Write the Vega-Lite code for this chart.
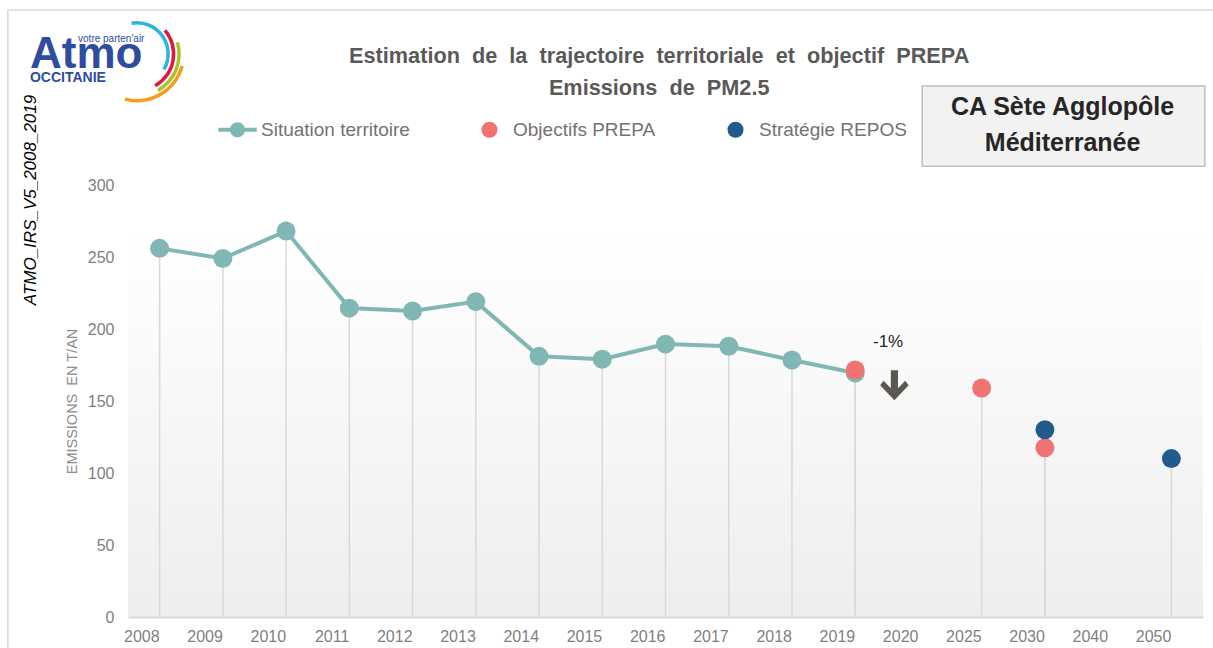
{
  "$schema": "https://vega.github.io/schema/vega-lite/v6.json",
  "width": 1075,
  "height": 432,
  "autosize": {"type": "none"},
  "padding": {"left": 128, "top": 185, "right": 10, "bottom": 31},
  "background": "#ffffff",
  "datasets": {
    "main": [
      {"year": "2008", "series": "Situation territoire", "value": 256},
      {"year": "2009", "series": "Situation territoire", "value": 249},
      {"year": "2010", "series": "Situation territoire", "value": 268},
      {"year": "2011", "series": "Situation territoire", "value": 214.5},
      {"year": "2012", "series": "Situation territoire", "value": 212.5},
      {"year": "2013", "series": "Situation territoire", "value": 219},
      {"year": "2014", "series": "Situation territoire", "value": 181},
      {"year": "2015", "series": "Situation territoire", "value": 179},
      {"year": "2016", "series": "Situation territoire", "value": 189.5},
      {"year": "2017", "series": "Situation territoire", "value": 188},
      {"year": "2018", "series": "Situation territoire", "value": 178.5},
      {"year": "2019", "series": "Situation territoire", "value": 169.5},
      {"year": "2019", "series": "Objectifs PREPA", "value": 171.5},
      {"year": "2025", "series": "Objectifs PREPA", "value": 159},
      {"year": "2030", "series": "Objectifs PREPA", "value": 117.5},
      {"year": "2030", "series": "Stratégie REPOS", "value": 130},
      {"year": "2050", "series": "Stratégie REPOS", "value": 110}
    ]
  },
  "config": {
    "view": {"stroke": null},
    "axis": {"grid": false, "ticks": false, "labelFont": "Liberation Sans, Arial, sans-serif", "labelFontSize": 16, "labelColor": "#7f7f7f"},
    "text": {"lineBreak": "\n"},
    "legend": {
      "title": null, "orient": "none", "direction": "horizontal", "legendX": 100, "legendY": -65,
      "labelFont": "Liberation Sans, Arial, sans-serif", "labelFontSize": 19, "labelColor": "#767171",
      "symbolSize": 256, "symbolStrokeWidth": 0, "symbolOpacity": 1, "columnPadding": 70, "labelOffset": 14
    }
  },
  "layer": [
    {
      "data": {"values": [{"lo": 0, "hi": 265}]},
      "mark": {"type": "rect", "fill": {"gradient": "linear", "x1": 0, "y1": 0, "x2": 0, "y2": 1, "stops": [{"offset": 0, "color": "#ffffff"}, {"offset": 1, "color": "#eeeeee"}]}},
      "encoding": {
        "y": {"field": "lo", "type": "quantitative", "scale": {"domain": [0, 300], "nice": false},
          "axis": {"title": "EMISSIONS\u00a0\u00a0EN T/AN", "values": [0, 50, 100, 150, 200, 250, 300], "domain": false, "labelPadding": 14, "titleFont": "Liberation Sans, Arial, sans-serif", "titleFontSize": 14.5, "titleFontWeight": "normal", "titleColor": "#8c8c8c", "titlePadding": 8}},
        "y2": {"field": "hi"}
      }
    },
    {
      "data": {"values": [{"a": 1}]},
      "mark": {"type": "rect", "fill": null, "stroke": "#d9d9d9", "strokeWidth": 1.5, "clip": false},
      "encoding": {
        "x": {"datum": "2008", "type": "ordinal", "bandPosition": -1.9},
        "x2": {"datum": "2050", "bandPosition": 4},
        "y": {"datum": 421.5, "type": "quantitative"},
        "y2": {"datum": -40}
      }
    },
    {
      "data": {"name": "main"},
      "mark": {"type": "rule", "color": "#d9d9d9", "strokeWidth": 1.5},
      "encoding": {
        "x": {"field": "year", "type": "ordinal", "scale": {"type": "band", "paddingInner": 0, "paddingOuter": 0, "domain": ["2008", "2009", "2010", "2011", "2012", "2013", "2014", "2015", "2016", "2017", "2018", "2019", "2020", "2025", "2030", "2040", "2050"]},
          "axis": {"title": null, "labelAngle": 0, "domain": true, "domainColor": "#d9d9d9", "domainWidth": 2, "labelPadding": 19}},
        "y": {"field": "value", "type": "quantitative"},
        "y2": {"datum": 0}
      }
    },
    {
      "data": {"name": "main"},
      "transform": [{"filter": "datum.series === 'Situation territoire'"}],
      "mark": {"type": "line", "color": "#80b7b5", "strokeWidth": 4},
      "encoding": {
        "x": {"field": "year", "type": "ordinal"},
        "y": {"field": "value", "type": "quantitative"}
      }
    },
    {
      "data": {"name": "main"},
      "mark": {"type": "point", "filled": true, "opacity": 1, "size": 360},
      "encoding": {
        "x": {"field": "year", "type": "ordinal"},
        "y": {"field": "value", "type": "quantitative"},
        "color": {"field": "series", "type": "nominal",
          "scale": {"domain": ["Situation territoire", "Objectifs PREPA", "Stratégie REPOS"], "range": ["#80b7b5", "#f07373", "#215a8c"]}}
      }
    },
    {
      "data": {"name": "main"},
      "mark": {"type": "point", "filled": true, "opacity": 0, "size": 256},
      "encoding": {
        "x": {"field": "year", "type": "ordinal"},
        "y": {"field": "value", "type": "quantitative"},
        "color": {"field": "series", "type": "nominal"},
        "shape": {"field": "series", "type": "nominal",
          "scale": {"domain": ["Situation territoire", "Objectifs PREPA", "Stratégie REPOS"],
            "range": ["M-2.4,-0.25L2.4,-0.25L2.4,0.25L-2.4,0.25Z M-0.95,0A0.95,0.95 0 1,1 0.95,0A0.95,0.95 0 1,1 -0.95,0Z", "circle", "circle"]}}
      }
    },
    {
      "data": {"values": [{"year": "2020", "value": 191, "label": "-1%"}]},
      "mark": {"type": "text", "fontSize": 17, "color": "#262626", "font": "Liberation Sans, Arial, sans-serif", "baseline": "middle", "align": "center"},
      "encoding": {
        "x": {"field": "year", "type": "ordinal", "bandPosition": 0.02},
        "y": {"field": "value", "type": "quantitative"},
        "text": {"field": "label"}
      }
    },
    {
      "data": {"values": [{"year": "2020", "value": 161}]},
      "mark": {"type": "point", "filled": true, "opacity": 1, "color": "#5b5751", "size": 900,
        "shape": "M-0.24,-1L0.24,-1L0.24,0.2L0.72,-0.3L0.95,0L0,1L-0.95,0L-0.72,-0.3L-0.24,0.2Z"},
      "encoding": {
        "x": {"field": "year", "type": "ordinal", "bandPosition": 0.12},
        "y": {"field": "value", "type": "quantitative"}
      }
    },
    {
      "data": {"values": [{"a": 1}]},
      "mark": {"type": "rect", "fill": "#f2f2f2", "stroke": "#bfbfbf", "strokeWidth": 1.5, "clip": false},
      "encoding": {
        "x": {"datum": "2020", "type": "ordinal", "bandPosition": 0.56},
        "x2": {"datum": "2050", "bandPosition": 1.03},
        "y": {"datum": 368.75, "type": "quantitative"},
        "y2": {"datum": 313}
      }
    },
    {
      "data": {"values": [{"label": "CA Sète Agglopôle\nMéditerranée"}]},
      "mark": {"type": "text", "font": "Liberation Sans, Arial, sans-serif", "fontWeight": "bold", "fontSize": 25, "color": "#262626", "lineHeight": 36, "align": "center", "baseline": "middle"},
      "encoding": {
        "x": {"datum": "2030", "type": "ordinal", "bandPosition": 0.78},
        "y": {"datum": 354.5, "type": "quantitative"},
        "text": {"field": "label"}
      }
    },
    {
      "data": {"values": [{"label": "Estimation\u00a0 de\u00a0 la\u00a0 trajectoire\u00a0 territoriale\u00a0 et\u00a0 objectif\u00a0 PREPA\nEmissions\u00a0 de\u00a0 PM2.5"}]},
      "mark": {"type": "text", "font": "Liberation Sans, Arial, sans-serif", "fontWeight": "bold", "fontSize": 21.7, "color": "#595959", "lineHeight": 32, "align": "center", "baseline": "middle"},
      "encoding": {
        "x": {"datum": "2016", "type": "ordinal", "bandPosition": 0.4},
        "y": {"datum": 389.3, "type": "quantitative"},
        "text": {"field": "label"}
      }
    },
    {
      "data": {"values": [{"label": "ATMO_IRS_V5_2008_2019"}]},
      "mark": {"type": "text", "font": "Liberation Sans, Arial, sans-serif", "fontStyle": "italic", "fontSize": 17, "color": "#000000", "angle": 270, "align": "center", "baseline": "middle"},
      "encoding": {
        "x": {"datum": "2008", "type": "ordinal", "bandPosition": -1.53},
        "y": {"datum": 289.6, "type": "quantitative"},
        "text": {"field": "label"}
      }
    },
    {
      "data": {"values": [{"label": "Atmo"}]},
      "mark": {"type": "text", "font": "Liberation Sans, Arial, sans-serif", "fontWeight": "bold", "fontSize": 44, "color": "#2e4d9f", "align": "center", "baseline": "alphabetic"},
      "encoding": {
        "x": {"datum": "2008", "type": "ordinal", "bandPosition": -0.66},
        "y": {"datum": 381.2, "type": "quantitative"},
        "text": {"field": "label"}
      }
    },
    {
      "data": {"values": [{"label": "OCCITANIE"}]},
      "mark": {"type": "text", "font": "Liberation Sans, Arial, sans-serif", "fontWeight": "bold", "fontSize": 14, "color": "#2e4d9f", "align": "left", "baseline": "alphabetic"},
      "encoding": {
        "x": {"datum": "2008", "type": "ordinal", "bandPosition": -1.55},
        "y": {"datum": 371.5, "type": "quantitative"},
        "text": {"field": "label"}
      }
    },
    {
      "data": {"values": [{"label": "votre parten'air"}]},
      "mark": {"type": "text", "font": "Liberation Sans, Arial, sans-serif", "fontSize": 10, "color": "#2e4d9f", "align": "left", "baseline": "alphabetic"},
      "encoding": {
        "x": {"datum": "2008", "type": "ordinal", "bandPosition": -0.79},
        "y": {"datum": 399.3, "type": "quantitative"},
        "text": {"field": "label"}
      }
    },
    {
      "data": {"values": [{"a": 1}]},
      "mark": {"type": "arc", "color": "#2bb5e6", "radius": 33, "radius2": 29.5, "theta": -0.17, "theta2": 2.09},
      "encoding": {"x": {"datum": "2008", "type": "ordinal", "bandPosition": 0.14}, "y": {"datum": 391, "type": "quantitative"}}
    },
    {
      "data": {"values": [{"a": 1}]},
      "mark": {"type": "arc", "color": "#e4173e", "radius": 38.5, "radius2": 35, "theta": 0.87, "theta2": 2.62},
      "encoding": {"x": {"datum": "2008", "type": "ordinal", "bandPosition": 0.14}, "y": {"datum": 391, "type": "quantitative"}}
    },
    {
      "data": {"values": [{"a": 1}]},
      "mark": {"type": "arc", "color": "#a5c52a", "radius": 44, "radius2": 40.5, "theta": 1.29, "theta2": 2.62},
      "encoding": {"x": {"datum": "2008", "type": "ordinal", "bandPosition": 0.14}, "y": {"datum": 391, "type": "quantitative"}}
    },
    {
      "data": {"values": [{"a": 1}]},
      "mark": {"type": "arc", "color": "#f59d1c", "radius": 48.5, "radius2": 45, "theta": 1.83, "theta2": 3.4},
      "encoding": {"x": {"datum": "2008", "type": "ordinal", "bandPosition": 0.14}, "y": {"datum": 391, "type": "quantitative"}}
    }
  ]
}
